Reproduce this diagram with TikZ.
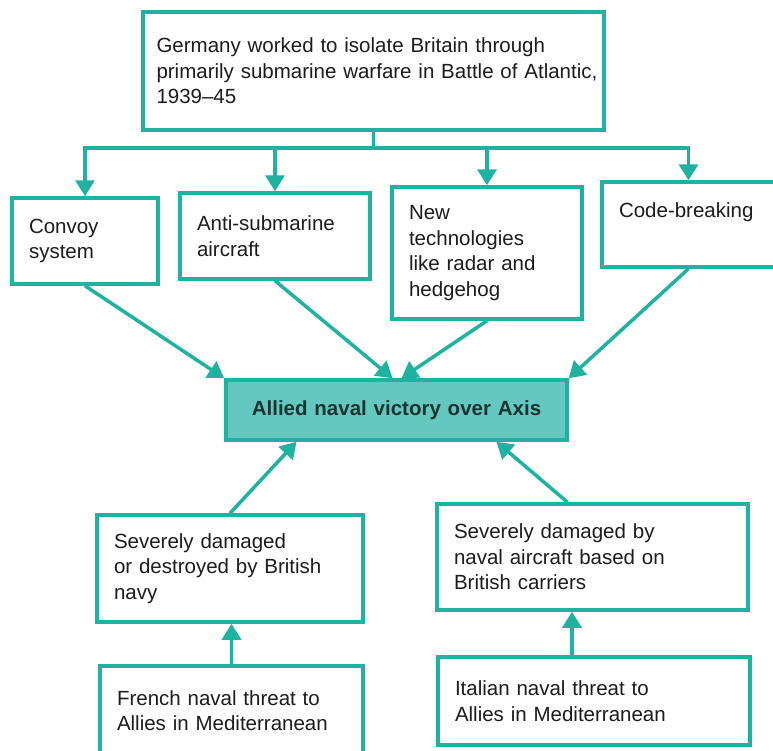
\documentclass[tikz,border=0pt]{standalone}
\usepackage{fontspec}
\setmainfont{Liberation Sans}
\usetikzlibrary{arrows.meta}

\definecolor{tealline}{RGB}{32,178,160}
\definecolor{tealfill}{RGB}{100,200,192}
\definecolor{inkdark}{RGB}{28,28,28}
\definecolor{goalink}{RGB}{24,52,50}

\begin{document}
\begin{tikzpicture}[x=1pt, y=-1pt,
  box/.style={draw=tealline, line width=3.5pt, fill=white, text=inkdark, align=left,
    inner xsep=17pt, inner ysep=0pt, font=\fontsize{20.5}{25.5}\selectfont},
  goal/.style={box, fill=tealfill, text=goalink, align=center,
    font=\fontsize{20.5}{25.5}\selectfont\bfseries},
  arr/.style={draw=tealline, line width=3.5pt, -{Triangle[width=19pt,length=16pt]}}]
  \clip (0,0) rectangle (773,750);
  \fill[white] (0,0) rectangle (773,750);

  % Battle of the Atlantic
  \node[box, inner xsep=13.5pt, text width=434pt, minimum height=118pt] (germany) at (373.5,71)
    {Germany worked to isolate Britain through\\\mbox{primarily submarine warfare in Battle of Atlantic,}\\1939--45};

  % Allied answers
  \node[box, text width=112pt, minimum height=86pt] (convoy) at (85,241) {Convoy\\system};
  \node[box, text width=156pt, minimum height=86pt] (antisub) at (275,236) {Anti-submarine\\aircraft};
  \node[box, text width=156pt, minimum height=132pt] (newtech) at (487,253)
    {New\\technologies\\like radar and\\hedgehog};
  \node[box, text width=139pt, minimum height=85pt, text height=15pt, text depth=30pt] (codes) at (688.5,224.5)
    {Code-breaking};

  % Outcome
  \node[goal, text width=307pt, minimum height=60pt] (victory) at (396.5,410) {Allied naval victory over Axis};

  % Mediterranean
  \node[box, text width=232pt, minimum height=107pt] (dmgfr) at (230,568.5)
    {Severely damaged\\or destroyed by British\\navy};
  \node[box, text width=277pt, minimum height=106pt] (dmgit) at (592.5,557)
    {Severely damaged by\\naval aircraft based on\\British carriers};
  \node[box, text width=229pt, minimum height=89pt] (threatfr) at (231.5,710.5)
    {French naval threat to\\Allies in Mediterranean};
  \node[box, text width=278pt, minimum height=88pt] (threatit) at (594,701)
    {Italian naval threat to\\Allies in Mediterranean};

  % Branches from the top box
  \coordinate (bus) at ([yshift=-16pt]germany.south);
  \draw[arr] (germany.south) -- (bus) -| (convoy.north);
  \draw[arr] (germany.south) -- (bus) -| (antisub.north);
  \draw[arr] (germany.south) -- (bus) -| (newtech.north);
  \draw[arr] (germany.south) -- (bus) -| (codes.north);

  % Into the victory box
  \draw[arr] (convoy.south) -- (victory.north west);
  \draw[arr] (antisub.south) -- ([xshift=-4pt]victory.north);
  \draw[arr] (newtech.south) -- ([xshift=5pt]victory.north);
  \draw[arr] (codes.south) -- (victory.north east);
  \draw[arr] (dmgfr.north) -- ([xshift=-100pt]victory.south);
  \draw[arr] ([xshift=-25pt]dmgit.north) -- ([xshift=100pt]victory.south);

  % Threats to damage
  \coordinate (itfoot) at ([xshift=-22pt]threatit.north);
  \draw[arr] (threatfr.north) -- (threatfr.north |- dmgfr.south);
  \draw[arr] (itfoot) -- (itfoot |- dmgit.south);
\end{tikzpicture}
\end{document}
